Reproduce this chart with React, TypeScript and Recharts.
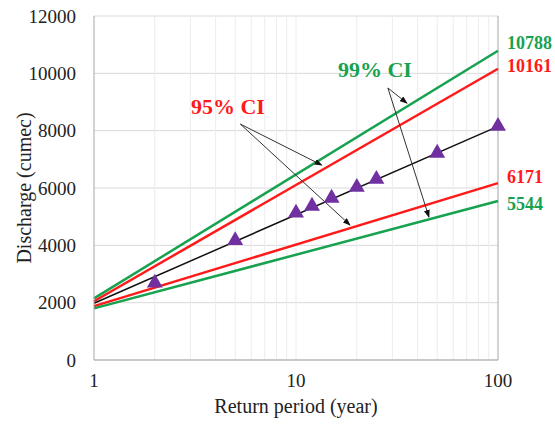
// App.tsx - flood frequency plot with 95% / 99% confidence bands
import { ComposedChart, Line, Scatter, XAxis, YAxis, ZAxis, CartesianGrid, ReferenceLine, ReferenceDot } from 'recharts';

// end points of the straight (log-x) lines
const lineT = [1, 100];
const fitted = [1980, 8150];
const upper95 = [2050, 10161];
const lower95 = [1880, 6171];
const upper99 = [2150, 10788];
const lower99 = [1800, 5544];

// observed / plotted discharges
const obsT = [2, 5, 10, 12, 15, 20, 25, 50, 100];
const obsQ = [2690, 4170, 5130, 5370, 5650, 6030, 6310, 7220, 8160];

const xTicks = [1, 10, 100];
const yTicks = [0, 2000, 4000, 6000, 8000, 10000, 12000];
const minorX = [2, 3, 4, 5, 6, 7, 8, 9, 10, 20, 30, 40, 50, 60, 70, 80, 90];

// annotation arrows: [fromT, fromQ, toT, toQ]
const arrows95 = [
  [5.3, 8230, 13.4, 6800],
  [5.3, 8230, 18.5, 4710],
];
const arrows99 = [
  [28.5, 9490, 35.4, 8960],
  [28.5, 9490, 45.5, 4990],
];

const GREEN = '#16a24f';
const RED = '#ff1a1a';
const FONT = '"Liberation Serif", "Times New Roman", serif';

const rows = (ts: number[], qs: number[]) => ts.map((t, i) => ({ t, q: qs[i] }));

const ArrowShape = (p: any) => (
  <line x1={p.x1} y1={p.y1} x2={p.x2} y2={p.y2} stroke="#333" strokeWidth={1} markerEnd="url(#arrowHead)" />
);

const endLabel = (value: string, color: string, dy: number) => ({
  value,
  position: 'right' as const,
  offset: 9,
  fill: color,
  fontSize: 18,
  fontWeight: 'bold',
  dy,
});

export default function App() {
  return (
    <div style={{ position: 'absolute', left: 0, top: 0, background: '#fff', fontFamily: FONT }}>
      <style>{`.recharts-wrapper text, .recharts-text { font-family: ${FONT} !important; }`}</style>
      <ComposedChart width={555} height={425} margin={{ top: 16, right: 57, left: 0, bottom: 10 }}>
        <defs>
          <marker id="arrowHead" markerWidth="8" markerHeight="6" refX="7" refY="3" orient="auto" markerUnits="userSpaceOnUse">
            <path d="M0,0 L8,3 L0,6 Z" fill="#111" />
          </marker>
        </defs>

        <CartesianGrid vertical={false} stroke="#d9d9d9" />
        {minorX.map((v) => (
          <ReferenceLine key={v} x={v} stroke="#ececec" />
        ))}
        <ReferenceLine x={100} stroke="#a6a6a6" />

        <XAxis
          dataKey="t"
          type="number"
          scale="log"
          domain={[1, 100]}
          ticks={xTicks}
          height={55}
          axisLine={{ stroke: '#a6a6a6' }}
          tickLine={false}
          tickSize={0}
          tickMargin={14}
          tick={{ fill: '#222', fontSize: 19 }}
          label={{ value: 'Return period (year)', position: 'insideBottom', offset: 2, fill: '#222', fontSize: 20 }}
        />
        <YAxis
          dataKey="q"
          type="number"
          domain={[0, 12000]}
          ticks={yTicks}
          width={94}
          axisLine={{ stroke: '#a6a6a6' }}
          tickLine={false}
          tickSize={0}
          tickMargin={18}
          tick={{ fill: '#222', fontSize: 19 }}
          label={{ value: 'Discharge (cumec)', angle: -90, position: 'center', dx: -23, fill: '#222', fontSize: 20 }}
        />
        <ZAxis type="number" range={[110, 110]} />

        <Line data={rows(lineT, upper99)} dataKey="q" stroke={GREEN} strokeWidth={2.5} dot={false} isAnimationActive={false} />
        <Line data={rows(lineT, upper95)} dataKey="q" stroke={RED} strokeWidth={2.5} dot={false} isAnimationActive={false} />
        <Line data={rows(lineT, fitted)} dataKey="q" stroke="#111" strokeWidth={1.5} dot={false} isAnimationActive={false} />
        <Line data={rows(lineT, lower95)} dataKey="q" stroke={RED} strokeWidth={2.5} dot={false} isAnimationActive={false} />
        <Line data={rows(lineT, lower99)} dataKey="q" stroke={GREEN} strokeWidth={2.5} dot={false} isAnimationActive={false} />

        <Scatter data={rows(obsT, obsQ)} dataKey="q" shape="triangle" fill="#7030a0" isAnimationActive={false} />

        {[...arrows95, ...arrows99].map((a, i) => (
          <ReferenceLine
            key={'arr' + i}
            segment={[{ x: a[0], y: a[1] }, { x: a[2], y: a[3] }]}
            shape={ArrowShape}
            ifOverflow="visible"
          />
        ))}

        <ReferenceDot x={4.6} y={8860} r={0} ifOverflow="visible"
          label={{ value: '95% CI', position: 'center', fill: RED, fontSize: 22, fontWeight: 'bold' }} />
        <ReferenceDot x={24.6} y={10150} r={0} ifOverflow="visible"
          label={{ value: '99% CI', position: 'center', fill: GREEN, fontSize: 22, fontWeight: 'bold' }} />

        <ReferenceDot x={100} y={10788} r={0} ifOverflow="visible" label={endLabel('10788', GREEN, -8)} />
        <ReferenceDot x={100} y={10161} r={0} ifOverflow="visible" label={endLabel('10161', RED, -3)} />
        <ReferenceDot x={100} y={6171} r={0} ifOverflow="visible" label={endLabel('6171', RED, -6)} />
        <ReferenceDot x={100} y={5544} r={0} ifOverflow="visible" label={endLabel('5544', GREEN, 3)} />
      </ComposedChart>
    </div>
  );
}
